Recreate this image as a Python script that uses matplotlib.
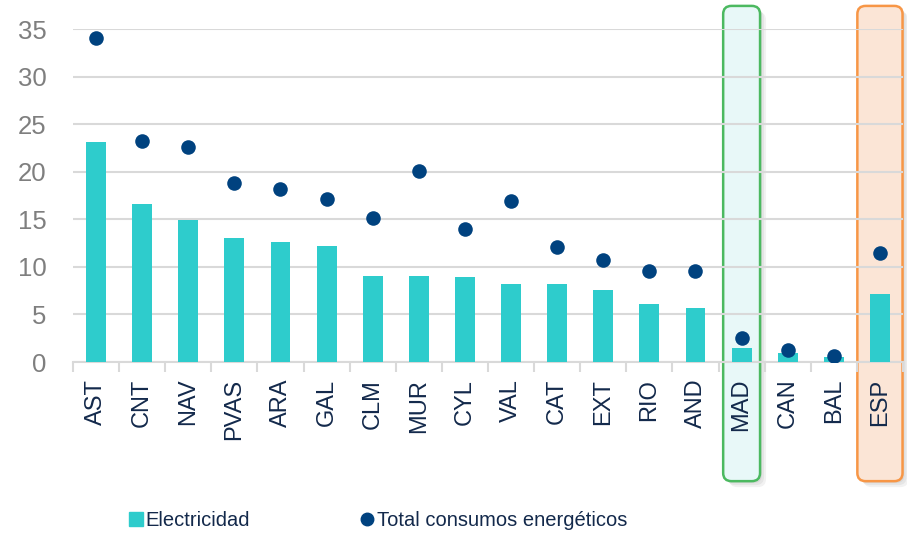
import matplotlib
matplotlib.use("Agg")
import matplotlib.pyplot as plt
from matplotlib.patches import FancyBboxPatch
from matplotlib.lines import Line2D
from matplotlib.transforms import blended_transform_factory, offset_copy
from matplotlib import font_manager

categories = ["AST", "CNT", "NAV", "PVAS", "ARA", "GAL", "CLM", "MUR", "CYL",
              "VAL", "CAT", "EXT", "RIO", "AND", "MAD", "CAN", "BAL", "ESP"]
electricidad = [23.1, 16.6, 14.9, 13.0, 12.6, 12.2, 9.05, 9.05, 8.9,
                8.25, 8.25, 7.6, 6.1, 5.7, 1.5, 0.9, 0.5, 7.2]
total = [34.1, 23.2, 22.6, 18.8, 18.2, 17.1, 15.1, 20.1, 14.0,
         16.9, 12.1, 10.7, 9.6, 9.6, 2.5, 1.25, 0.65, 11.5]
yticks = [0, 5, 10, 15, 20, 25, 30, 35]
series_names = ["Electricidad", "Total consumos energéticos"]

names = {f.name for f in font_manager.fontManager.ttflist}
base = "Liberation Sans" if "Liberation Sans" in names else "DejaVu Sans"
plt.rcParams["font.family"] = [base, "DejaVu Sans"]

BAR = "#2ECCCC"
DOT = "#00427F"
NAVY = "#13294B"
GRID = "#D9D9D9"

fig = plt.figure(figsize=(9.07, 5.37), dpi=100)
ax = fig.add_axes([73 / 907, 1 - 362 / 537, 830 / 907, (362 - 29.3) / 537])
ax.set_facecolor("none")

x = list(range(len(categories)))
ax.bar(x, electricidad, width=0.43, color=BAR, zorder=3)
ax.scatter(x, total, s=110, color=DOT, zorder=4, linewidths=0)

ax.set_xlim(-0.5, len(categories) - 0.5)
ax.set_ylim(0, 35)
ax.set_yticks(yticks)
ax.set_yticklabels([str(v) for v in yticks])
ax.yaxis.grid(True, color=GRID, linewidth=1.5, zorder=1)
ax.set_axisbelow(True)
for s in ["top", "right", "left"]:
    ax.spines[s].set_visible(False)
ax.spines["bottom"].set_color(GRID)
ax.spines["bottom"].set_linewidth(1.5)
ax.tick_params(axis="y", length=0, pad=19, labelsize=18.5, labelcolor="#7F7F7F")
ax.set_xticks(x)
ax.set_xticklabels(categories, rotation=90)
ax.tick_params(axis="x", length=0, pad=12, labelsize=17, labelcolor=NAVY)
ax.set_xticks([i - 0.5 for i in range(len(categories) + 1)], minor=True)
ax.tick_params(axis="x", which="minor", length=7, width=1.5, color=GRID)

# highlight boxes behind MAD and ESP
tr = blended_transform_factory(ax.transData, fig.transFigure)
boxes = [("MAD", 0.80, "#E8F8F8", "#4CB960"), ("ESP", 0.98, "#FBE5D6", "#F79646")]
for name, w, fc, ec in boxes:
    i = categories.index(name)
    style = "round,pad=0,rounding_size=0.18"
    for k in range(3):
        shadow_tr = offset_copy(tr, fig=fig, x=2 + 2 * k, y=-(2 + 2 * k), units="dots")
        sh = FancyBboxPatch((i - w / 2, 0.104), w, 0.989 - 0.104,
                            boxstyle=style, transform=shadow_tr,
                            facecolor="#000000", alpha=0.05,
                            edgecolor="none", zorder=-3, mutation_aspect=0.085)
        fig.patches.append(sh)
    p = FancyBboxPatch((i - w / 2, 0.104), w, 0.989 - 0.104,
                       boxstyle=style, transform=tr, facecolor=fc, edgecolor=ec,
                       linewidth=1.8, zorder=-2, mutation_aspect=0.085)
    fig.patches.append(p)

handles = [Line2D([], [], marker="s", linestyle="none", color=BAR, markersize=10),
           Line2D([], [], marker="o", linestyle="none", color=DOT, markersize=9)]
fig.legend(handles, series_names, loc="center", bbox_to_anchor=(0.415, 0.03),
           ncol=2, frameon=False, handletextpad=0.0, columnspacing=5.3,
           handlelength=1.0, prop={"size": 14.5}, labelcolor=NAVY)

fig.savefig("out.png", dpi=100)
